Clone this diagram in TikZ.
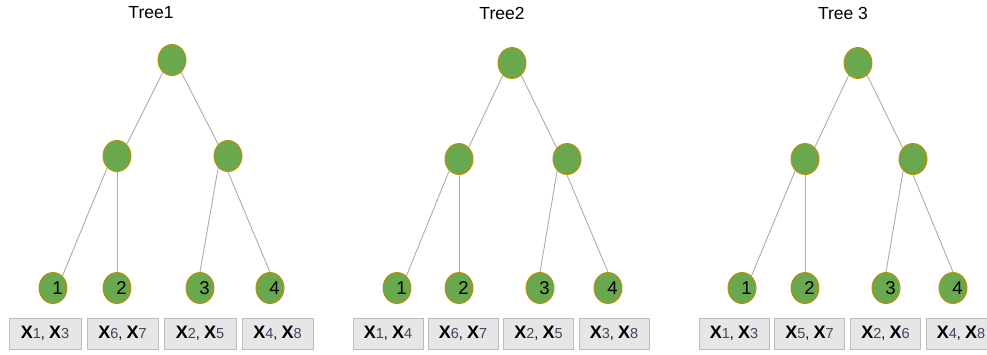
\documentclass[tikz,border=0pt]{standalone}
\usepackage{fontspec}
\setmainfont{Liberation Sans}
\usetikzlibrary{shapes.geometric}
\definecolor{nodegreen}{HTML}{6AA84F}
\definecolor{nodeborder}{HTML}{BF9000}
\definecolor{edgegray}{HTML}{ADADAD}
\definecolor{boxfill}{HTML}{E6E6E6}
\definecolor{boxborder}{HTML}{BDBDBD}
\definecolor{digitcol}{HTML}{3B4660}
\newcommand\xsubnum[1]{{\fontsize{18}{20}\selectfont\bfseries X}{\fontsize{14.5}{16}\selectfont\color{digitcol}#1}}
\newcommand\xpairtxt[2]{\xsubnum{#1}{\fontsize{14.5}{16}\selectfont, }\xsubnum{#2}}
\tikzset{
  tnode/.style={ellipse, draw=nodeborder, fill=nodegreen, line width=0.9pt,
    minimum width=28pt, minimum height=31pt, inner sep=0pt,
    font=\fontsize{18.5}{20}\selectfont},
  link/.style={draw=edgegray, line width=0.9pt},
  leafbox/.style={rectangle, draw=boxborder, fill=boxfill, line width=0.9pt,
    minimum height=31pt, inner sep=0pt, text height=8pt, text depth=0pt},
  ttitle/.style={font=\fontsize{17.5}{20}\selectfont, inner sep=0pt}
}
\begin{document}
\begin{tikzpicture}[x=1pt, y=-1pt]
\useasboundingbox (0,0) rectangle (987,354);
\fill[white] (0,0) rectangle (987,354);
\clip (0,0) rectangle (987,354);

% ---------------- Tree 1 ----------------
\node[ttitle] (t1title) at (151,12.5) {Tree1};
\node[tnode] (t1r) at (172,60) {};
\node[tnode] (t1a) at (117,156) {};
\node[tnode] (t1b) at (228,156) {};
\node[tnode] (t1l1) at (53,288) {\hspace*{9pt}1};
\node[tnode] (t1l2) at (117,288) {\hspace*{9pt}2};
\node[tnode] (t1l3) at (200,288) {\hspace*{9pt}3};
\node[tnode] (t1l4) at (270,288) {\hspace*{9pt}4};
\draw[link] (t1r.233) -- (t1a.50);
\draw[link] (t1r.307) -- (t1b.130);
\draw[link] (t1a.230) -- (t1l1.52);
\draw[link] (t1a.south) -- (t1l2.north);
\draw[link] (t1b.230) -- (t1l3.north);
\draw[link] (t1b.south) -- (t1l4.north);
\node[leafbox, minimum width=72pt] (t1s1) at (45,334) {\xpairtxt{1}{3}};
\node[leafbox, minimum width=71pt] (t1s2) at (122.5,334) {\xpairtxt{6}{7}};
\node[leafbox, minimum width=72pt] (t1s3) at (200,334) {\xpairtxt{2}{5}};
\node[leafbox, minimum width=71pt] (t1s4) at (277.5,334) {\xpairtxt{4}{8}};

% ---------------- Tree 2 ----------------
\node[ttitle] (t2title) at (502,13) {Tree2};
\node[tnode] (t2r) at (512,63) {};
\node[tnode] (t2a) at (459,159) {};
\node[tnode] (t2b) at (567,159) {};
\node[tnode] (t2l1) at (397,288) {\hspace*{9pt}1};
\node[tnode] (t2l2) at (459,288) {\hspace*{9pt}2};
\node[tnode] (t2l3) at (540,288) {\hspace*{9pt}3};
\node[tnode] (t2l4) at (608,288) {\hspace*{9pt}4};
\draw[link] (t2r.233) -- (t2a.50);
\draw[link] (t2r.307) -- (t2b.133);
\draw[link] (t2a.230) -- (t2l1.52);
\draw[link] (t2a.south) -- (t2l2.north);
\draw[link] (t2b.230) -- (t2l3.north);
\draw[link] (t2b.south) -- (t2l4.north);
\node[leafbox, minimum width=70pt] (t2s1) at (388,334) {\xpairtxt{1}{4}};
\node[leafbox, minimum width=70pt] (t2s2) at (463,334) {\xpairtxt{6}{7}};
\node[leafbox, minimum width=70pt] (t2s3) at (538.5,334) {\xpairtxt{2}{5}};
\node[leafbox, minimum width=70pt] (t2s4) at (614,334) {\xpairtxt{3}{8}};

% ---------------- Tree 3 ----------------
\node[ttitle] (t3title) at (843,13) {Tree 3};
\node[tnode] (t3r) at (858,63) {};
\node[tnode] (t3a) at (805,159) {};
\node[tnode] (t3b) at (913,159) {};
\node[tnode] (t3l1) at (742,288) {\hspace*{9pt}1};
\node[tnode] (t3l2) at (805,288) {\hspace*{9pt}2};
\node[tnode] (t3l3) at (886,288) {\hspace*{9pt}3};
\node[tnode] (t3l4) at (953,288) {\hspace*{9pt}4};
\draw[link] (t3r.233) -- (t3a.50);
\draw[link] (t3r.307) -- (t3b.133);
\draw[link] (t3a.230) -- (t3l1.52);
\draw[link] (t3a.south) -- (t3l2.north);
\draw[link] (t3b.230) -- (t3l3.north);
\draw[link] (t3b.south) -- (t3l4.north);
\node[leafbox, minimum width=70pt] (t3s1) at (734,334) {\xpairtxt{1}{3}};
\node[leafbox, minimum width=70pt] (t3s2) at (809.5,334) {\xpairtxt{5}{7}};
\node[leafbox, minimum width=70pt] (t3s3) at (885.5,334) {\xpairtxt{2}{6}};
\node[leafbox, minimum width=70pt] (t3s4) at (961,334) {\xpairtxt{4}{8}};
\end{tikzpicture}
\end{document}
